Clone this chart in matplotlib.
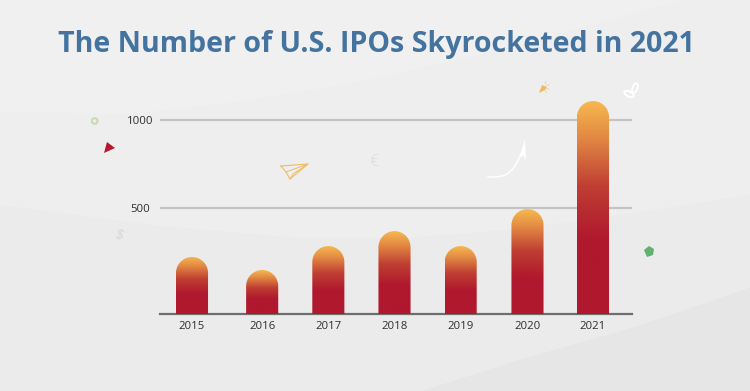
import numpy as np
import matplotlib
matplotlib.use('Agg')
import matplotlib.pyplot as plt
from matplotlib.colors import LinearSegmentedColormap
from matplotlib.path import Path
from matplotlib.patches import PathPatch, Polygon, Circle, Ellipse

plt.rcParams['font.family'] = ['Open Sans', 'DejaVu Sans']

years = ['2015', '2016', '2017', '2018', '2019', '2020', '2021']
ipos = [222, 148, 284, 369, 284, 494, 1108]
yticks = [500, 1000]
title = 'The Number of U.S. IPOs Skyrocketed in 2021'

W, H = 750, 391
fig = plt.figure(figsize=(W / 100, H / 100), dpi=100)

# fond gris avec les grandes vagues, en pixels
bg = fig.add_axes([0, 0, 1, 1])
bg.set_xlim(0, W)
bg.set_ylim(H, 0)
bg.axis('off')
xs = np.linspace(0, 750, 200)
top_wave = np.interp(xs, [0, 130, 230, 350, 500, 683, 750], [112, 114, 103, 84, 50, 0, 0])
low_wave = np.interp(xs, [0, 160, 300, 400, 510, 640, 750], [205, 226, 238, 238, 230, 212, 195])
bot_wave = np.interp(xs, [420, 517, 633, 750], [391, 360, 327, 287])
bg.fill_between(xs, 0, 391, color='#f0f0f0', lw=0)
bg.fill_between(xs, top_wave, 391, color='#eeeeee', lw=0)
bg.fill_between(xs, low_wave, 391, color='#ebebeb', lw=0)
bg.fill_between(xs[xs >= 420], bot_wave[xs >= 420], 391, color='#e6e6e6', lw=0)

# petits decors
bg.add_patch(Polygon([(104, 153), (107, 142), (115, 148)], color='#b7182e', lw=0))
bg.add_patch(Circle((94.7, 121), 2.8, fc='none', ec='#c8dcb0', lw=1.5))
bg.add_patch(Polygon([(644, 250), (649, 246), (654, 249), (653, 255), (647, 257)], color='#5fb26f', lw=0))
bg.plot([281, 308, 290, 286, 281], [166, 164, 179, 172, 166], color='#eebb66', lw=0.8)
bg.plot([286, 308, 293, 290], [172, 164, 174, 179], color='#eebb66', lw=0.7)
t = np.linspace(0, 1, 30)
bg.plot(488 + 36 * t ** 0.6, 177 - 32 * t ** 2.2, color='white', lw=1.1)
bg.add_patch(Polygon([(525, 139), (520, 158), (523, 155), (526, 160)], color='white', lw=0))
bg.text(374, 162, '€', color='#dcdcdc', fontsize=12, ha='center', va='center', fontweight='light')
bg.text(118, 236, '$', color='#d8d8d8', fontsize=10, ha='center', va='center', rotation=-20)
bg.add_patch(Polygon([(539, 93), (542, 85), (547, 87), (545, 90)], color='#edbb66', lw=0))
for a in [-60, -20, 20, 60]:
    dx, dy = np.cos(np.radians(a)), np.sin(np.radians(a))
    bg.plot([543 + 4 * dx, 543 + 6.5 * dx], [87 + 4 * dy, 87 + 6.5 * dy], color='#edcf96', lw=0.6)
bg.add_patch(Ellipse((629, 94), 10, 5, angle=25, fc='none', ec='white', lw=1.5))
bg.add_patch(Ellipse((635, 88), 5, 10, angle=20, fc='none', ec='white', lw=1.3))

fig.text(376 / W, 1 - 52 / H, title, color='#44739f', fontsize=20.6, fontweight='bold',
         ha='center', va='baseline')

# axe : 500 et 1000 tombent sur les lignes, la base est sous zero dans l'original
ax = fig.add_axes([160 / W, 1 - 314 / H, 472 / W, 214 / H])
ax.patch.set_alpha(0)
for s in ['top', 'left', 'right']:
    ax.spines[s].set_visible(False)
ax.spines['bottom'].set_color('#6e6e6e')
ax.spines['bottom'].set_linewidth(1.6)
ax.set_xticks([0, 1.05, 2.04, 3.03, 4.02, 5.02, 6])
ax.set_xticklabels(years)
ax.set_yticks(yticks)
ax.tick_params(length=0, labelsize=8.2, labelcolor='#2e2e2e')
ax.tick_params(axis='x', pad=5)
ax.tick_params(axis='y', pad=14.4)
for lab in ax.get_yticklabels():
    lab.set_ha('center')
ax.grid(axis='y', color='#c4c4c4', lw=1.6)
ax.set_axisbelow(True)

xlim = (-0.479, 6.584)
ylim = (-102, 1114)
cmap = LinearSegmentedColormap.from_list(
    'bar', [(0, '#f7b84f'), (0.15, '#e58f45'), (0.4, '#bf3e33'), (0.65, '#b0182e'), (1, '#b0182e')])
grad = np.linspace(0, 1, 256).reshape(-1, 1)
bar_w = 0.48
base = ylim[0]
ry = (bar_w / 2) * (472 / (xlim[1] - xlim[0])) / (214 / (ylim[1] - ylim[0]))
k = 0.5523
for x, v in zip(ax.get_xticks(), ipos):
    l, r = x - bar_w / 2, x + bar_w / 2
    rx = bar_w / 2
    verts = [(l, base), (l, v - ry), (l, v - ry + k * ry), (x - k * rx, v), (x, v),
             (x + k * rx, v), (r, v - ry + k * ry), (r, v - ry), (r, base), (l, base)]
    codes = [Path.MOVETO, Path.LINETO, Path.CURVE4, Path.CURVE4, Path.CURVE4,
             Path.CURVE4, Path.CURVE4, Path.CURVE4, Path.LINETO, Path.CLOSEPOLY]
    patch = PathPatch(Path(verts, codes), fc='none', ec='none', transform=ax.transData)
    ax.add_patch(patch)
    im = ax.imshow(grad, cmap=cmap, extent=[l, r, base, v], aspect='auto', zorder=3)
    im.set_clip_path(patch)
ax.set_xlim(xlim)
ax.set_ylim(ylim)

fig.savefig('out.png', dpi=100)
